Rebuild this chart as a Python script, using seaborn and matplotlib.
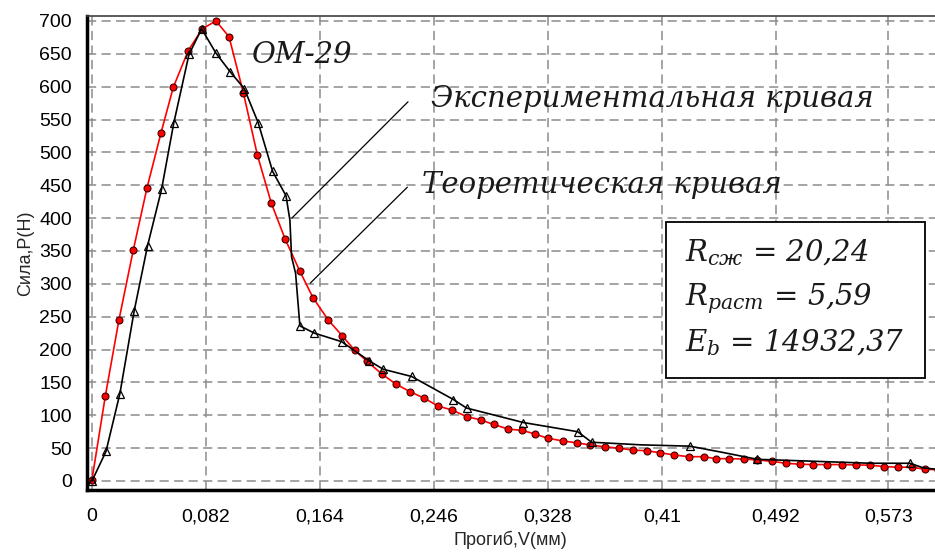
import numpy as np
import pandas as pd
import matplotlib
matplotlib.use("Agg")
import matplotlib.pyplot as plt
from matplotlib.patches import Rectangle
from matplotlib.ticker import FixedLocator, MultipleLocator
import seaborn as sns

# Теоретическая кривая (красные точки)
teor_x = [0, 0.0096, 0.0194, 0.0297, 0.0396, 0.0496, 0.0585, 0.0693, 0.0794, 0.0892,
          0.0986, 0.109, 0.119, 0.129, 0.139, 0.1496, 0.159, 0.170, 0.180, 0.189,
          0.198, 0.2084, 0.219, 0.2288, 0.239, 0.249, 0.259, 0.2695, 0.2796, 0.289,
          0.2995, 0.3096, 0.3187, 0.328, 0.3386, 0.3487, 0.358, 0.369, 0.379, 0.3894,
          0.399, 0.409, 0.419, 0.4295, 0.44, 0.449, 0.4585, 0.469, 0.4786, 0.489,
          0.499, 0.5094, 0.519, 0.529, 0.5393, 0.5496, 0.5597, 0.570, 0.5796, 0.5897,
          0.599, 0.609]
teor_y = [2, 129, 245, 351, 446, 529, 599, 655, 688, 700,
          676, 590, 496, 423, 368, 319, 279, 245, 221, 199,
          182, 163, 147, 136, 126, 114, 108, 98, 93, 86,
          79, 77, 71.5, 65, 61, 58, 55, 52, 50, 47,
          46, 43, 39.5, 37, 37, 34, 34, 33.5, 32, 30,
          27, 25.5, 25, 25, 25, 24.5, 24, 22, 21, 21,
          18, 17]

# Экспериментальная кривая (треугольники только в отмеченных точках)
exp_x = [0, 0.0101, 0.0201, 0.0304, 0.040, 0.0501, 0.0588, 0.0698, 0.0789, 0.0892,
         0.0993, 0.1096, 0.1196, 0.130, 0.1396, 0.1424, 0.1436, 0.1465, 0.1496, 0.160,
         0.1796, 0.1993, 0.2096, 0.230, 0.260, 0.2695, 0.3103, 0.3494, 0.3595, 0.395,
         0.4302, 0.445, 0.455, 0.4786, 0.52, 0.56, 0.5885, 0.598, 0.607]
exp_y = [0, 45, 133, 259, 358, 444, 544, 649, 688, 651,
         623, 597, 545, 471, 434, 397, 341, 316, 236, 225,
         212, 183, 170, 159, 124, 111, 89, 75, 59, 55,
         53, 47, 43, 33, 30, 27, 27, 20, 18]
exp_marked = [True] * 15 + [False] * 3 + [True] * 11 + [False] + [True] + [False] * 2 + \
             [True] + [False] * 2 + [True] + [False] * 2

x_ticks = [0, 0.082, 0.164, 0.246, 0.328, 0.41, 0.492, 0.573]
x_tick_labels = ["0", "0,082", "0,164", "0,246", "0,328", "0,41", "0,492", "0,573"]
y_ticks = list(range(0, 701, 50))

df_teor = pd.DataFrame({"x": teor_x, "y": teor_y})
df_exp = pd.DataFrame({"x": exp_x, "y": exp_y})

sns.set_style("white")
plt.rcParams["font.family"] = ["Liberation Sans", "DejaVu Sans"]
plt.rcParams["mathtext.fontset"] = "custom"
plt.rcParams["mathtext.it"] = "DejaVu Serif:italic"
plt.rcParams["mathtext.rm"] = "DejaVu Serif"

fig = plt.figure(figsize=(9.35, 5.56), dpi=100)
ax = fig.add_axes([0.0927, 0.1187, 0.9073, 0.8531])

sns.lineplot(data=df_teor, x="x", y="y", ax=ax, color="red", lw=1.2,
             marker="o", markersize=5, markerfacecolor="red",
             markeredgecolor="#400000", markeredgewidth=0.8,
             estimator=None, sort=False, zorder=3)
sns.lineplot(data=df_exp, x="x", y="y", ax=ax, color="black", lw=1.2,
             marker="^", markersize=6, markerfacecolor="none",
             markeredgecolor="black", markeredgewidth=0.9, markevery=exp_marked,
             estimator=None, sort=False, zorder=4)

ax.set_xlim(-0.0038, 0.6065)
ax.set_ylim(-13.7, 708)

ax.xaxis.set_major_locator(FixedLocator(x_ticks))
ax.set_xticklabels(x_tick_labels)
ax.xaxis.set_minor_locator(MultipleLocator(0.0205))
ax.yaxis.set_major_locator(FixedLocator(y_ticks))
ax.yaxis.set_minor_locator(MultipleLocator(10))

ax.grid(True, which="major", color="#8c8c8c", linestyle=(0, (6, 3.5)), lw=1.1)
ax.set_axisbelow(True)

ax.tick_params(axis="x", which="major", direction="out", length=8, width=1,
               labelsize=14, pad=5, colors="black")
ax.tick_params(axis="x", which="minor", direction="out", length=4.3, width=1,
               colors="#555555")
ax.tick_params(axis="y", which="major", direction="out", length=4.5, width=1,
               labelsize=14, pad=6, colors="black")
ax.tick_params(axis="y", which="minor", direction="out", length=2.5, width=1,
               colors="#555555")

for side in ["left", "bottom"]:
    ax.spines[side].set_linewidth(2.5)
    ax.spines[side].set_color("black")
ax.spines["top"].set_linewidth(1.2)
ax.spines["top"].set_color("#404040")
ax.spines["right"].set_visible(False)

ax.set_xlabel("Прогиб,V(мм)", fontsize=13, labelpad=4)
ax.set_ylabel("Сила,P(H)", fontsize=13, labelpad=4)

serif_it = dict(family="DejaVu Serif", style="italic", fontsize=21, color="#1a1a1a")

ax.text(0.1151, 636, "ОМ-29", va="baseline", ha="left", **serif_it)
ax.text(0.2436, 569, "Экспериментальная кривая", va="baseline", ha="left", **serif_it)
ax.text(0.2372, 438, "Теоретическая кривая", va="baseline", ha="left", **serif_it)

ax.annotate("", xy=(0.1424, 397), xytext=(0.2288, 580),
            arrowprops=dict(arrowstyle="-", lw=0.9, color="black"), zorder=5)
ax.annotate("", xy=(0.1556, 298), xytext=(0.2283, 450),
            arrowprops=dict(arrowstyle="-", lw=0.9, color="black"), zorder=5)

box = Rectangle((0.6825, 0.2355), 0.3057, 0.3302, transform=ax.transAxes,
                facecolor="white", edgecolor="black", lw=1.3, zorder=6)
ax.add_patch(box)
ax.text(0.4266, 333.8, r"$R_{сж}$ = 20,24", va="baseline", ha="left", zorder=7, **serif_it)
ax.text(0.4266, 268, r"$R_{раст}$ = 5,59", va="baseline", ha="left", zorder=7, **serif_it)
ax.text(0.4266, 196.8, r"$E_{b}$ = 14932,37", va="baseline", ha="left", zorder=7, **serif_it)

fig.savefig("out.png", dpi=100)
